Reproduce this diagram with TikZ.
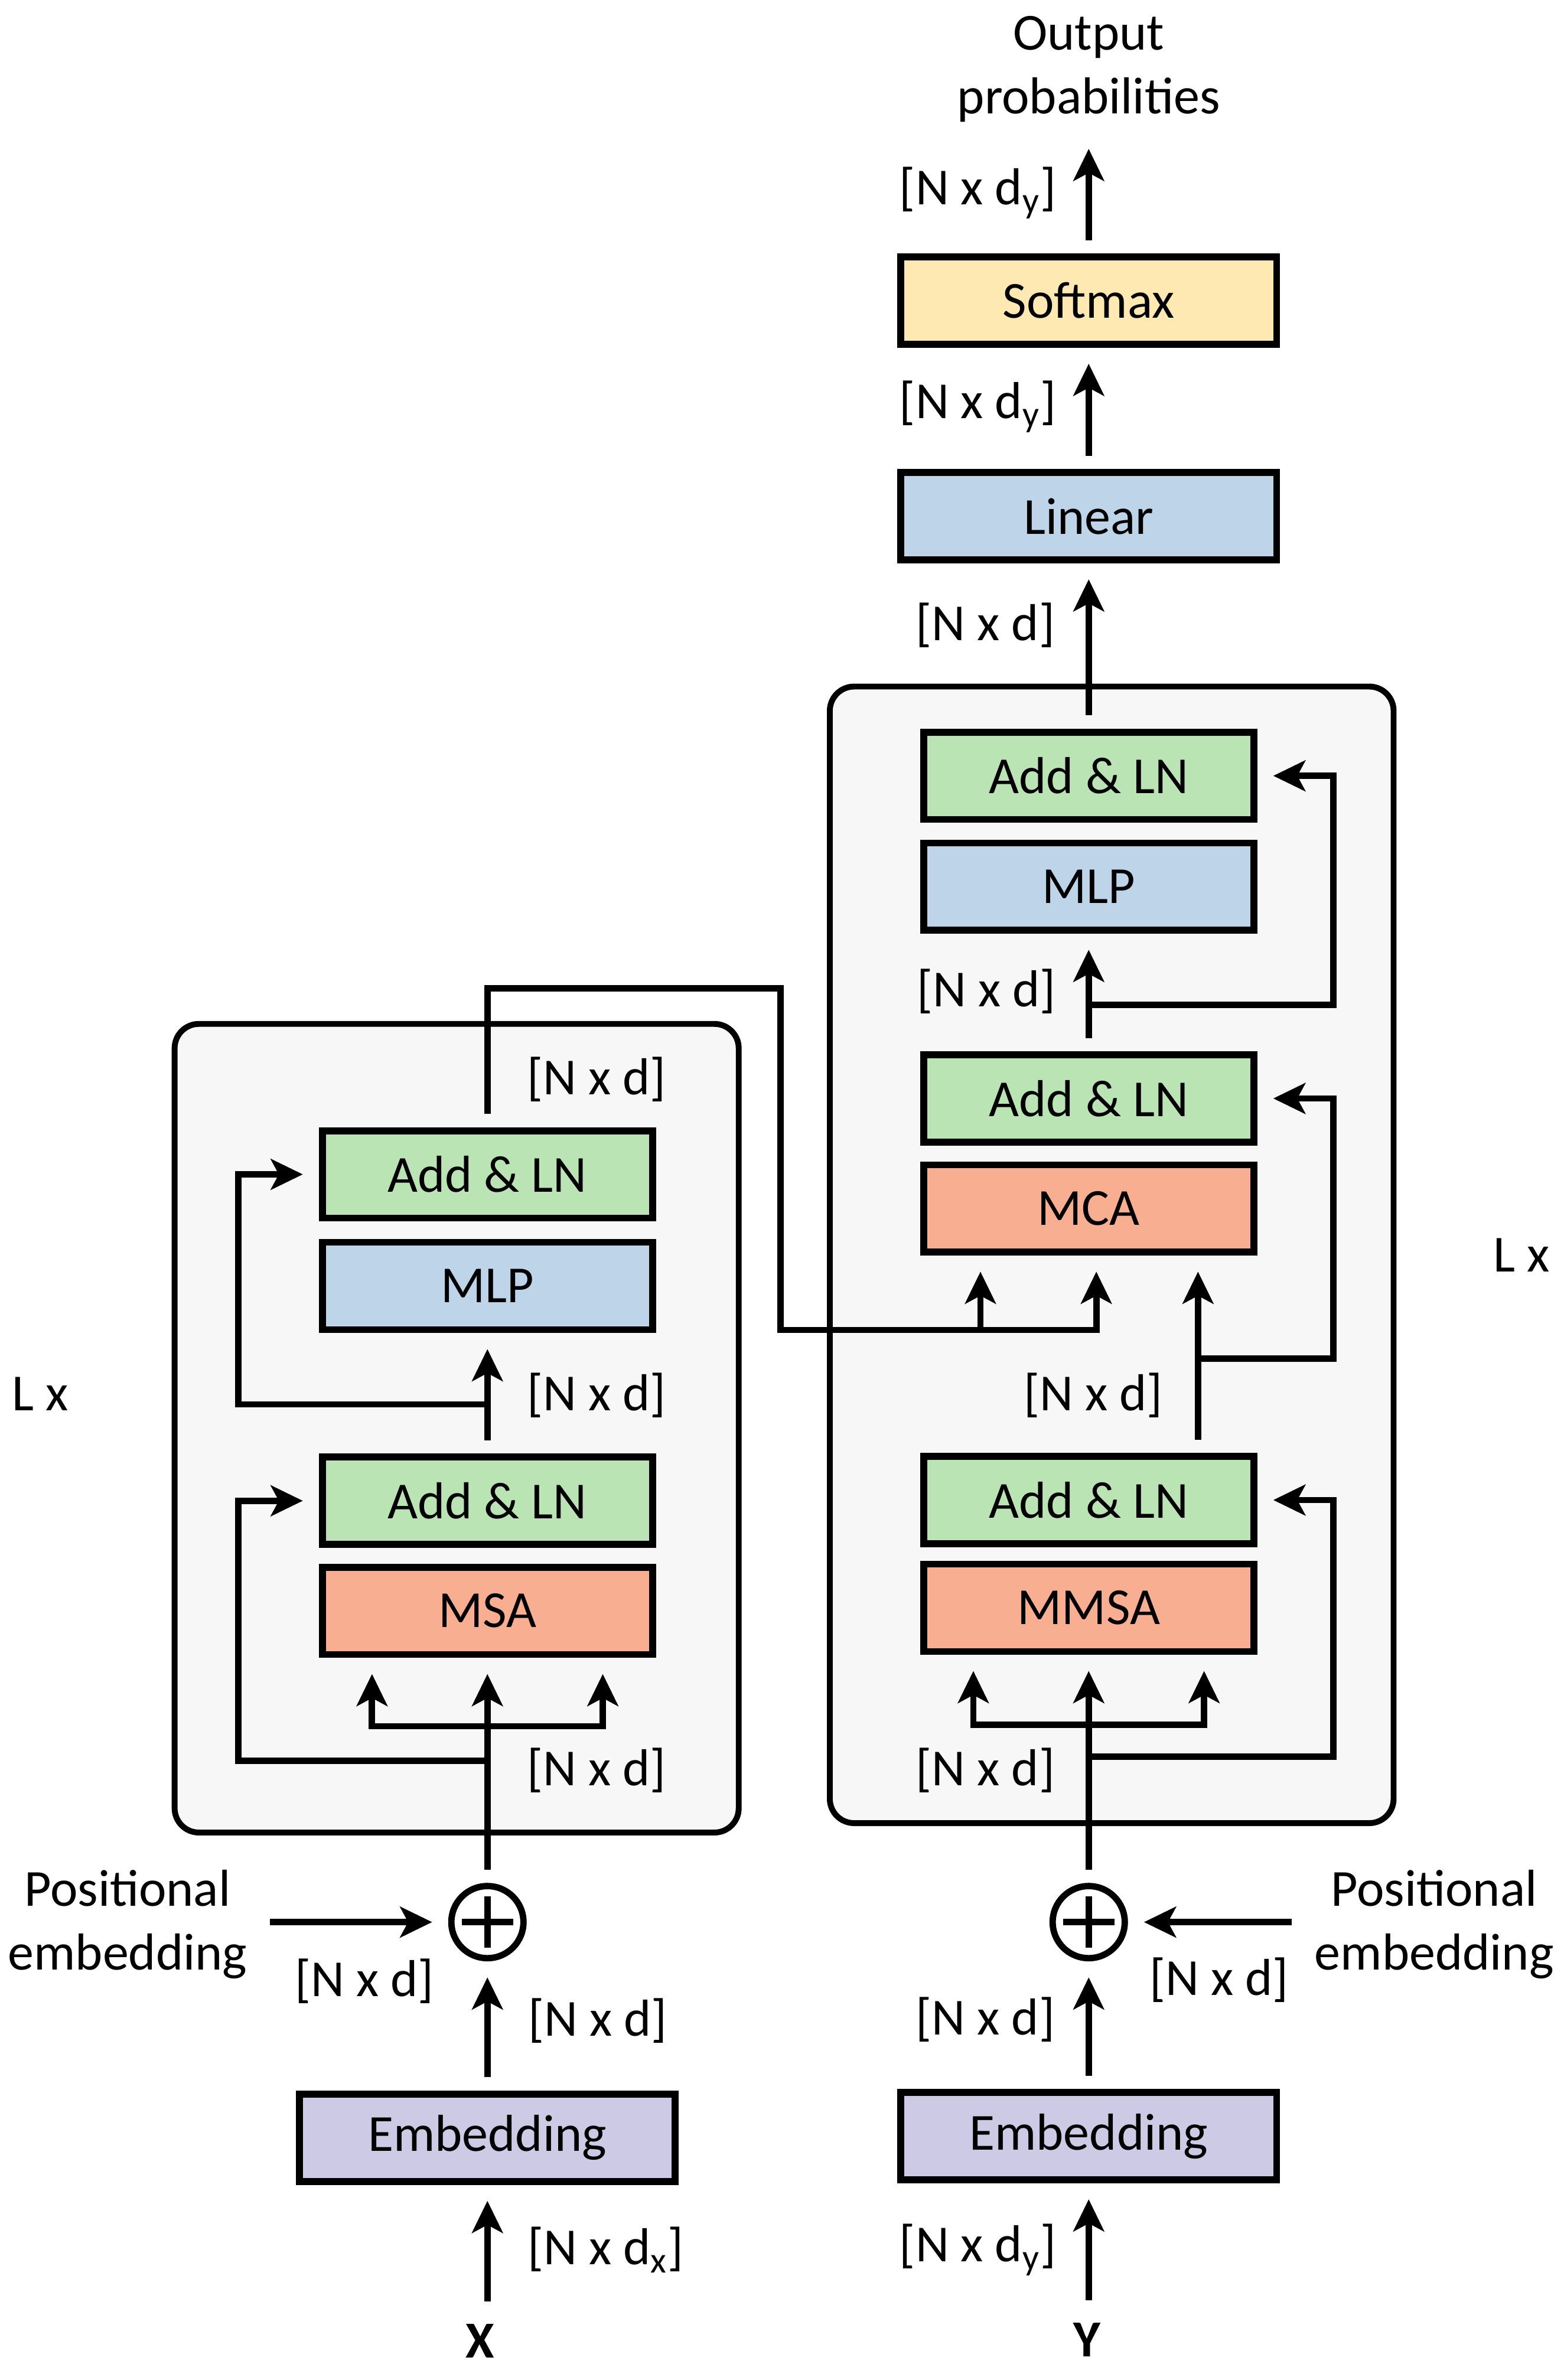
\documentclass[tikz,border=0pt]{standalone}
\usepackage{fontspec}
\setmainfont{Carlito}
\usetikzlibrary{arrows.meta}

\definecolor{addgreen}{RGB}{186,228,180}
\definecolor{mlpblue}{RGB}{190,213,233}
\definecolor{attnred}{RGB}{248,174,144}
\definecolor{softyellow}{RGB}{253,233,177}
\definecolor{embpurple}{RGB}{204,202,228}
\definecolor{blockgray}{RGB}{247,247,247}

\begin{document}
\begin{tikzpicture}[x=0.02cm, y=-0.02cm, >={Stealth[length=12pt,width=11.5pt,inset=3pt]},
	font=\fontsize{19.5}{24}\selectfont,
	netbox/.style={draw, line width=2.6pt, inner sep=0pt, minimum width=4.35cm, minimum height=1.15cm},
	widebox/.style={netbox, minimum width=4.95cm},
	stackbox/.style={draw, line width=2.2pt, fill=blockgray, rounded corners=0.32cm},
	plusnode/.style={draw, circle, line width=2.4pt, inner sep=0pt, minimum size=0.95cm,
		path picture={\draw[line width=2.4pt]
			([xshift=-0.34cm]path picture bounding box.center) -- ([xshift=0.34cm]path picture bounding box.center)
			([yshift=-0.34cm]path picture bounding box.center) -- ([yshift=0.34cm]path picture bounding box.center);}},
	link/.style={line width=2.4pt, shorten <=5pt},
	flow/.style={link, ->, shorten >=6pt}]
	
	\useasboundingbox (0,0) rectangle (1030,1567.6);
	
	% Draw the two stacks (encoder left, decoder right)
	\draw[stackbox] (115,674.4) rectangle (486.5,1207);
	\draw[stackbox] (546.5,452.2) rectangle (917.8,1200.8);
	
	% Encoder column
	\node[widebox, fill=embpurple] (eemb) at (321,1408) {Embedding};
	\node[plusnode] (eplus) at (321,1266) {};
	\node[netbox, fill=attnred] (emsa) at (321,1061) {MSA};
	\node[netbox, fill=addgreen] (eadd1) at (321,988.5) {Add \& LN};
	\node[netbox, fill=mlpblue] (emlp) at (321,847) {MLP};
	\node[netbox, fill=addgreen] (eadd2) at (321,773.5) {Add \& LN};
	\node (xin) at (316,1542) {\textbf{X}};
	\node[align=center] (epos) at (84,1267.5) {Positional\\embedding};
	\node (elx) at (26.5,918) {L x};
	
	% Decoder column
	\node[widebox, fill=embpurple] (demb) at (717,1407) {Embedding};
	\node[plusnode] (dplus) at (717,1266) {};
	\node[netbox, fill=attnred] (mmsa) at (717,1059) {MMSA};
	\node[netbox, fill=addgreen] (dadd1) at (717,988) {Add \& LN};
	\node[netbox, fill=attnred] (mca) at (717,796) {MCA};
	\node[netbox, fill=addgreen] (dadd2) at (717,723.5) {Add \& LN};
	\node[netbox, fill=mlpblue] (dmlp) at (717,584) {MLP};
	\node[netbox, fill=addgreen] (dadd3) at (717,511) {Add \& LN};
	\node[widebox, fill=mlpblue] (lin) at (717,340) {Linear};
	\node[widebox, fill=softyellow] (soft) at (717,198) {Softmax};
	\node[align=center] (outp) at (717,45.5) {Output\\probabilities};
	\node (yin) at (716,1541) {\textbf{Y}};
	\node[align=center] (dpos) at (944.5,1267.5) {Positional\\embedding};
	\node (dlx) at (1002,826.5) {L x};
	
	% Shape labels
	\foreach \n/\x/\y in {ed1/393/711, ed2/393/919, ed3/393/1166, ed4/240/1305, ed5/393.6/1331,
		dd1/649/412, dd2/649.5/653, dd3/720/919, dd4/649/1166, dd5/803/1304, dd6/649/1330}
		\node (\n) at (\x,\y) {[N x d]};
	\node (edx) at (399,1482) {[N x d\textsubscript{x}]};
	\node (ddy1) at (644,1482) {[N x d\textsubscript{y}]};
	\node (ddy2) at (644,268) {[N x d\textsubscript{y}]};
	\node (ddy3) at (644,127) {[N x d\textsubscript{y}]};
	
	% Split points on the main lines
	\coordinate (esplit) at (321,1137);
	\coordinate (eres1) at (321,1159.6);
	\coordinate (eres2) at (321,925);
	\coordinate (dsplit) at (717,1136);
	\coordinate (dres1) at (717,1157);
	\coordinate (dres2) at (789,895);
	\coordinate (dres3) at (717,662);
	\coordinate (kv) at (722,876);
	\coordinate (qin) at (645.7,876);
	\coordinate (outtip) at (717,87.5);
	
	% Encoder connectors
	\draw[flow] (eemb.south |- xin.north) -- (eemb.south);
	\draw[flow] (eemb.north) -- (eplus.south);
	\draw[flow] (epos.east |- eplus.west) -- (eplus.west);
	\draw[flow] (eplus.north) -- (emsa.south);
	\foreach \s in {-1.52cm,1.52cm}
		\draw[flow, shorten <=0pt] (esplit) -| ([xshift=\s]emsa.south);
	\draw[flow, shorten <=0pt] (eres1) -- ++(-164,0) |- (eadd1.west);
	\draw[flow] (eadd1.north) -- (emlp.south);
	\draw[flow, shorten <=0pt] (eres2) -- ++(-164,0) |- (eadd2.west);
	
	% Encoder output into the cross attention
	\draw[flow] (eadd2.north) |- (514,651) |- (kv) -- (kv |- mca.south);
	\draw[flow, shorten <=0pt] (qin) -- (qin |- mca.south);
	
	% Decoder connectors
	\draw[flow] (demb.south |- yin.north) -- (demb.south);
	\draw[flow] (demb.north) -- (dplus.south);
	\draw[flow] (dpos.west |- dplus.east) -- (dplus.east);
	\draw[flow] (dplus.north) -- (mmsa.south);
	\foreach \s in {-1.52cm,1.52cm}
		\draw[flow, shorten <=0pt] (dsplit) -| ([xshift=\s]mmsa.south);
	\draw[flow, shorten <=0pt] (dres1) -- ++(161,0) |- (dadd1.east);
	\draw[flow] ([xshift=1.44cm]dadd1.north) -- ([xshift=1.44cm]mca.south);
	\draw[flow, shorten <=0pt] (dres2) -- ++(89,0) |- (dadd2.east);
	\draw[flow] (dadd2.north) -- (dmlp.south);
	\draw[flow, shorten <=0pt] (dres3) -- ++(161,0) |- (dadd3.east);
	\draw[flow] (dadd3.north) -- (lin.south);
	\draw[flow] (lin.north) -- (soft.south);
	\draw[flow] (soft.north) -- (outtip);
	
\end{tikzpicture}
\end{document}
